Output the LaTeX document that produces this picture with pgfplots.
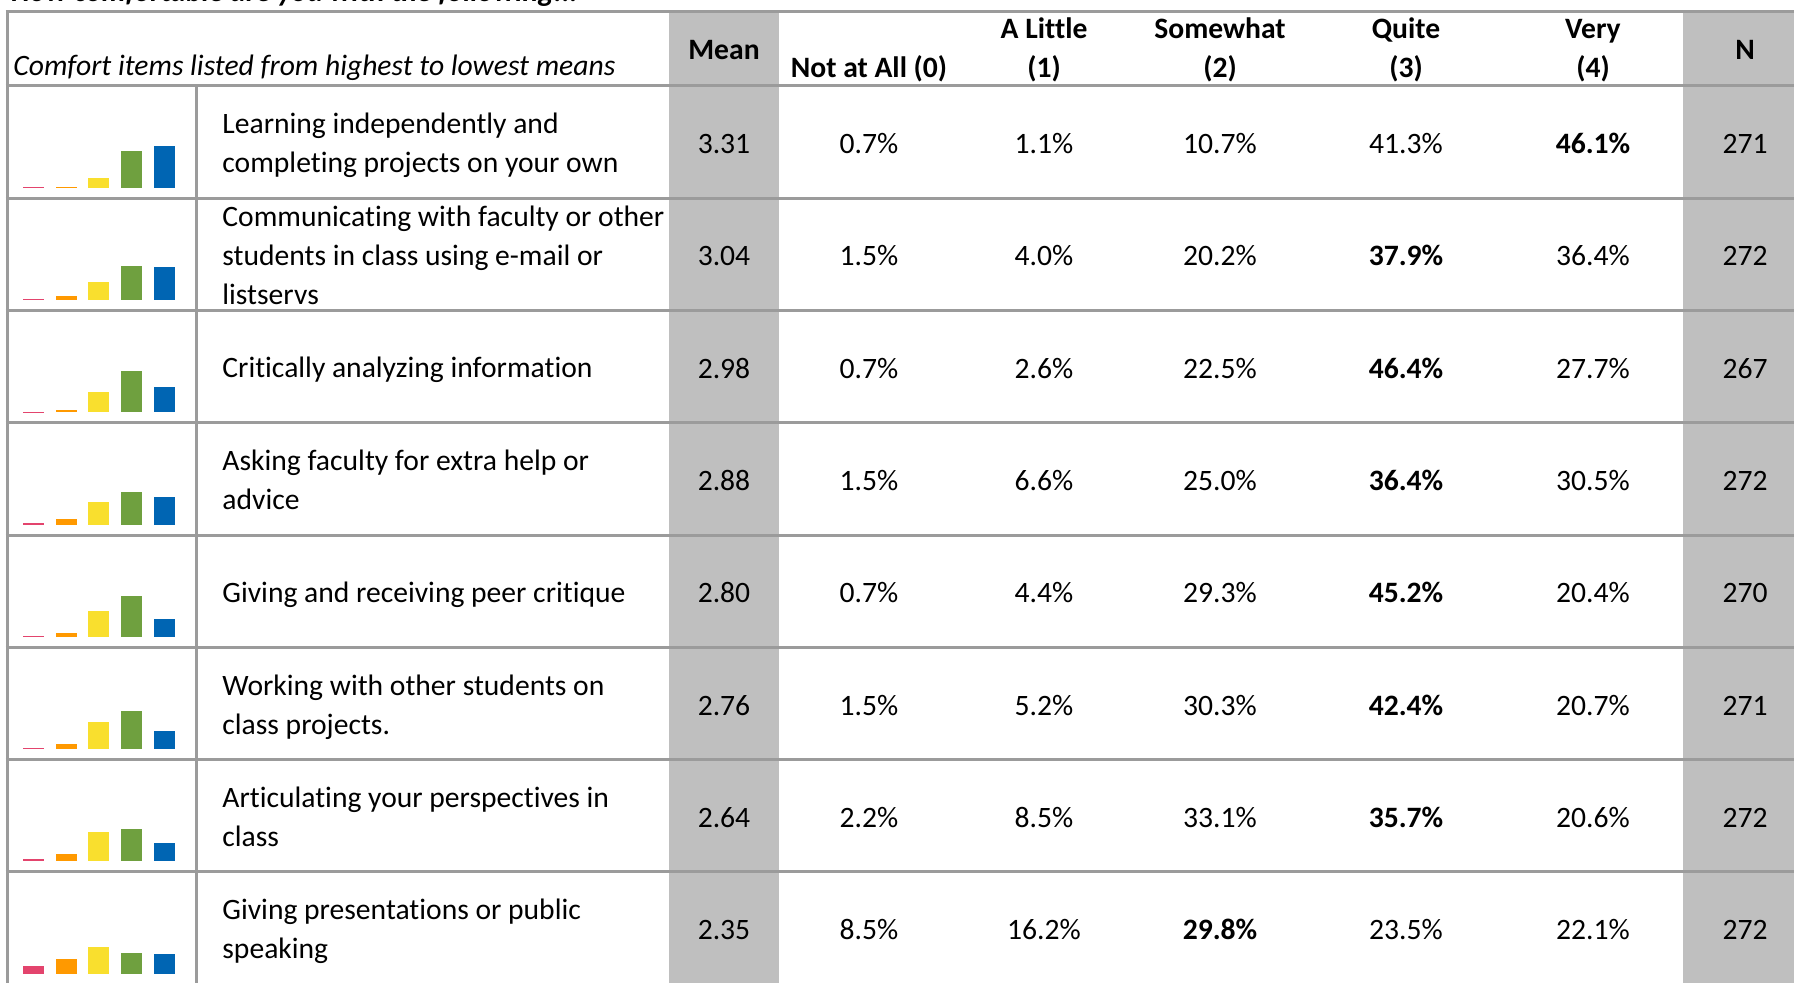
\documentclass[border=0pt]{standalone}
\usepackage{fontspec}
\setmainfont{Carlito}[Ligatures=NoCommon]
\usepackage{pgfplots}
\pgfplotsset{compat=1.18}
\definecolor{cpink}{HTML}{E3446D}
\definecolor{corange}{HTML}{FF9900}
\definecolor{cyellow}{HTML}{F9DF2E}
\definecolor{cgreen}{HTML}{6FA03F}
\definecolor{cblue}{HTML}{0065B3}
\definecolor{gline}{HTML}{9B9B9B}
\definecolor{gfill}{HTML}{BFBFBF}
\newcommand{\fs}{\fontsize{14.8pt}{19.5pt}\selectfont}
% sparkline: #1 baseline y (px), #2..#6 percentages
\newcommand{\spark}[6]{%
\begin{axis}[at={(0.25pt,{-0.5pt*#1})}, anchor=south west, scale only axis,
  width=98.4pt, height=44.75pt, xmin=-1, xmax=5, ymin=0, ymax=100,
  hide axis, clip=false]
\addplot[ybar, bar width=0.64, bar shift=0pt, fill=cpink, draw=none] coordinates {(0,#2)};
\addplot[ybar, bar width=0.64, bar shift=0pt, fill=corange, draw=none] coordinates {(1,#3)};
\addplot[ybar, bar width=0.64, bar shift=0pt, fill=cyellow, draw=none] coordinates {(2,#4)};
\addplot[ybar, bar width=0.64, bar shift=0pt, fill=cgreen, draw=none] coordinates {(3,#5)};
\addplot[ybar, bar width=0.64, bar shift=0pt, fill=cblue, draw=none] coordinates {(4,#6)};
\end{axis}}
% values: #1 row centre, #2 mean, #3..#7 percentages (text), #8 N
\newcommand{\vals}[8]{%
\node[anchor=base,inner sep=0] at (724,#1+11.5) {#2};
\node[anchor=base,inner sep=0] at (869,#1+11.5) {#3};
\node[anchor=base,inner sep=0] at (1044,#1+11.5) {#4};
\node[anchor=base,inner sep=0] at (1220,#1+11.5) {#5};
\node[anchor=base,inner sep=0] at (1406,#1+11.5) {#6};
\node[anchor=base,inner sep=0] at (1593,#1+11.5) {#7};
\node[anchor=base,inner sep=0] at (1745,#1+11.5) {#8};}
\newcommand{\itemA}[2]{\node[anchor=base west,inner sep=0] at (222,#1+11) {#2};}
\newcommand{\itemB}[3]{\node[anchor=base west,inner sep=0] at (222,#1-8.5) {#2};
\node[anchor=base west,inner sep=0] at (222,#1+30.5) {#3};}
\newcommand{\itemC}[4]{\node[anchor=base west,inner sep=0] at (222,#1-28) {#2};
\node[anchor=base west,inner sep=0] at (222,#1+11) {#3};
\node[anchor=base west,inner sep=0] at (222,#1+50) {#4};}
\begin{document}
\fs
\begin{tikzpicture}[x=0.5pt,y=-0.5pt]
\useasboundingbox (0,0) rectangle (1794,982);
% grey columns
\fill[gfill] (669,12) rectangle (779,995);
\fill[gfill] (1683,12) rectangle (1800,995);
% horizontal rules
\foreach \yy in {11.8,85.8,198.1,310.4,422.7,535.0,647.3,759.6,871.9}
  \draw[gline,line width=1.5pt] (5.5,\yy) -- (1800,\yy);
\draw[gline,line width=1.5pt] (7,11.8) -- (7,995);
\draw[gline,line width=1.5pt] (196.5,85.8) -- (196.5,995);
% title (cut off at top)
\node[anchor=base west,inner sep=0,font=\fs\bfseries\itshape] at (11,1.5) {How comfortable are you with the following...};
% header
\node[anchor=base west,inner sep=0,font=\fs\itshape] at (13,75) {Comfort items listed from highest to lowest means};
\begin{scope}[every node/.style={anchor=base,inner sep=0,font=\fs\bfseries}]
\node at (724,59.5) {Mean};
\node at (869,77.5) {Not at All (0)};
\node at (1044,38.5) {A Little};
\node at (1044,77.5) {(1)};
\node at (1220,38.5) {Somewhat};
\node at (1220,77.5) {(2)};
\node at (1406,38.5) {Quite};
\node at (1406,77.5) {(3)};
\node at (1593,38.5) {Very};
\node at (1593,77.5) {(4)};
\node at (1745,59.5) {N};
\end{scope}
% rows
\spark{187.6}{0.7}{1.1}{10.7}{41.3}{46.1}
\itemB{142.0}{Learning independently and}{completing projects on your own}
\vals{142.0}{3.31}{0.7\%}{1.1\%}{10.7\%}{41.3\%}{\textbf{46.1\%}}{271}
\spark{299.9}{1.5}{4.0}{20.2}{37.9}{36.4}
\itemC{254.3}{Communicating with faculty or other}{students in class using e-mail or}{listservs}
\vals{254.3}{3.04}{1.5\%}{4.0\%}{20.2\%}{\textbf{37.9\%}}{36.4\%}{272}
\spark{412.2}{0.7}{2.6}{22.5}{46.4}{27.7}
\itemA{366.6}{Critically analyzing information}
\vals{366.6}{2.98}{0.7\%}{2.6\%}{22.5\%}{\textbf{46.4\%}}{27.7\%}{267}
\spark{524.5}{1.5}{6.6}{25.0}{36.4}{30.5}
\itemB{478.9}{Asking faculty for extra help or}{advice}
\vals{478.9}{2.88}{1.5\%}{6.6\%}{25.0\%}{\textbf{36.4\%}}{30.5\%}{272}
\spark{636.8}{0.7}{4.4}{29.3}{45.2}{20.4}
\itemA{591.2}{Giving and receiving peer critique}
\vals{591.2}{2.80}{0.7\%}{4.4\%}{29.3\%}{\textbf{45.2\%}}{20.4\%}{270}
\spark{749.1}{1.5}{5.2}{30.3}{42.4}{20.7}
\itemB{703.5}{Working with other students on}{class projects.}
\vals{703.5}{2.76}{1.5\%}{5.2\%}{30.3\%}{\textbf{42.4\%}}{20.7\%}{271}
\spark{861.4}{2.2}{8.5}{33.1}{35.7}{20.6}
\itemB{815.8}{Articulating your perspectives in}{class}
\vals{815.8}{2.64}{2.2\%}{8.5\%}{33.1\%}{\textbf{35.7\%}}{20.6\%}{272}
\spark{973.7}{8.5}{16.2}{29.8}{23.5}{22.1}
\itemB{928.1}{Giving presentations or public}{speaking}
\vals{928.1}{2.35}{8.5\%}{16.2\%}{\textbf{29.8\%}}{23.5\%}{22.1\%}{272}
\end{tikzpicture}
\end{document}
